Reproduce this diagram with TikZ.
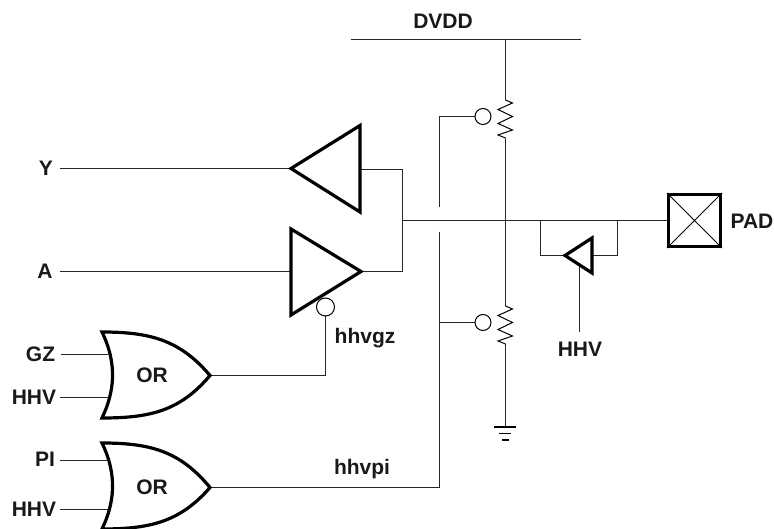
\documentclass[tikz,border=0pt]{standalone}
\usepackage{fontspec}
\setmainfont{Liberation Sans}
\begin{document}
\begin{tikzpicture}[x=1pt,y=-1pt,
  wire/.style={line width=1.2pt,black!85},
  thick gate/.style={line width=3.2pt,black,line join=miter,fill=white},
  thin part/.style={line width=1pt,black},
  lab/.style={font=\bfseries\fontsize{21}{22}\selectfont,inner sep=0pt,text=black!90},
  bubble/.style={circle,draw=black,line width=1pt,minimum size=16pt,inner sep=0pt,fill=white}]
\useasboundingbox (0,0) rectangle (774,529);
% labels
\node[lab] (dvdd) at (443,21) {DVDD};
\node[lab] (y) at (46,168) {Y};
\node[lab] (a) at (45,271) {A};
\node[lab] (gz) at (40.5,354) {GZ};
\node[lab] (hhv1) at (34,397) {HHV};
\node[lab] (pi) at (45,459.5) {PI};
\node[lab] (hhv2) at (34,509) {HHV};
\node[lab] (hhvgz) at (365,338) {hhvgz};
\node[lab] (hhvpi) at (362,469) {hhvpi};
\node[lab] (hhv3) at (580,349.5) {HHV};
\node[lab] (pad) at (752,221) {PAD};
% coordinates
\coordinate (yin) at (60,168.5);
\coordinate (ain) at (60,271.5);
\coordinate (gzin) at (61,354.5);
\coordinate (hv1in) at (60,397.5);
\coordinate (piin) at (60,460.5);
\coordinate (hv2in) at (60,509.5);
\coordinate (t1tip) at (291,168.5);
\coordinate (t1base) at (360,169.5);
\coordinate (t2base) at (291,271.5);
\coordinate (t2tip) at (361,271.5);
\coordinate (bus) at (402.5,220.5);
\coordinate (o1) at (210,375.5);
\coordinate (o2) at (210,487.5);
\coordinate (vb) at (505.5,39.5);
\coordinate (r1t) at (505.5,100);
\coordinate (r1b) at (505.5,138);
\coordinate (r2t) at (505.5,306);
\coordinate (r2b) at (505.5,344);
\coordinate (gnd) at (505.5,427);
\coordinate (gl) at (439.5,207);
\coordinate (gu) at (439.5,232);
\coordinate (c1) at (439.5,116.5);
\coordinate (c2) at (439.5,322.5);
\coordinate (c3) at (439.5,487.5);
\coordinate (l1) at (540.5,220.5);
\coordinate (l2) at (617.5,220.5);
\coordinate (t3tip) at (565,255.5);
\coordinate (t3base) at (592,255.5);
\coordinate (t3in) at (579.5,264);
\coordinate (hin) at (579.5,332);
% wires
\draw[wire] (351,39.5) -- (581,39.5);
\draw[wire] (vb) -- (r1t) (r1b) -- (r2t) (r2b) -- (gnd);
\draw[wire] (yin) -- (t1tip);
\draw[wire] (ain) -- (t2base);
\draw[wire] (t1base) -- (402.5,169.5) -- (402.5,271.5) -- (t2tip);
\draw[wire] (bus) -- (667,220.5);
\draw[wire] (gl) -- (c1) -- (475,116.5);
\draw[wire] (gu) -- (c3) -- (o2);
\draw[wire] (c2) -- (475,322.5);
\draw[wire] (l1) |- (t3tip);
\draw[wire] (l2) |- (t3base);
\draw[wire] (t3in) -- (hin);
\draw[wire] (gzin) -- (108,354.5);
\draw[wire] (hv1in) -- (108,397.5);
\draw[wire] (piin) -- (108,460.5);
\draw[wire] (hv2in) -- (108,509.5);
\draw[wire] (o1) -- (325.5,375.5) -- (325.5,316);
% resistors
\draw[thin part,line join=miter] (r1t) -- (512.5,103) -- (498,109.5) -- (512.5,116.5) -- (498,123.5) -- (512.5,130) -- (498,135) -- (r1b);
\draw[thin part,line join=miter] (r2t) -- (512.5,309) -- (498,315.5) -- (512.5,322.5) -- (498,329.5) -- (512.5,336) -- (498,341) -- (r2b);
% bubbles
\node[bubble] (b1) at (483,116.5) {};
\node[bubble] (b2) at (483,322.5) {};
% ground
\draw[line width=1.4pt] (494,427) -- (516,427);
\draw[line width=1.4pt] (499,433.5) -- (511,433.5);
\draw[line width=1.4pt] (502,440) -- (509,440);
% buffers
\draw[thick gate] (t1tip) -- (360,125.5) -- (360,212) -- cycle;
\draw[thick gate] (291,229) -- (t2tip) -- (291,315) -- cycle;
\node[bubble,minimum size=18pt] (b3) at (325.5,307) {};
\draw[thick gate] (t3tip) -- (592,238) -- (592,273) -- cycle;
% OR gates
\draw[thick gate] (102,332) .. controls (150,332) and (180,340) .. (o1)
   .. controls (180,411) and (150,418) .. (102,418)
   .. controls (114,393) and (118,365) .. cycle;
\draw[thick gate] (102,443) .. controls (150,443) and (180,451) .. (o2)
   .. controls (180,522) and (150,529) .. (102,529)
   .. controls (114,504) and (118,476) .. cycle;
\node[lab] (or1) at (152,375) {OR};
\node[lab] (or2) at (152,487) {OR};
% PAD
\node[draw=black,line width=3.2pt,minimum size=52pt,inner sep=0pt,fill=white] (padbox) at (694.5,220.5) {};
\draw[line width=.9pt] (padbox.north west) -- (padbox.south east) (padbox.north east) -- (padbox.south west);
\end{tikzpicture}
\end{document}
